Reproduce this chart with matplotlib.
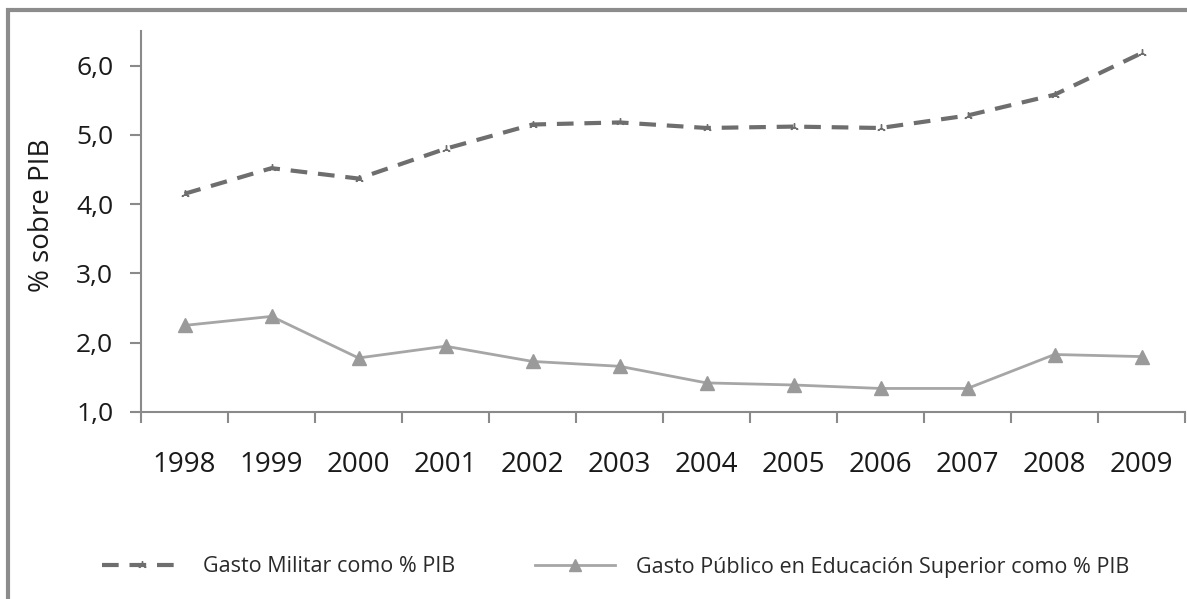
import matplotlib.pyplot as plt
from matplotlib.lines import Line2D
from matplotlib.patches import Rectangle

# Data
years = ["1998", "1999", "2000", "2001", "2002", "2003",
         "2004", "2005", "2006", "2007", "2008", "2009"]
gasto_militar = [4.15, 4.52, 4.37, 4.80, 5.15, 5.18, 5.10, 5.12, 5.10, 5.28, 5.58, 6.18]
gasto_educacion = [2.25, 2.38, 1.78, 1.95, 1.73, 1.66, 1.42, 1.39, 1.34, 1.34, 1.83, 1.80]
y_ticks = [1.0, 2.0, 3.0, 4.0, 5.0, 6.0]

plt.rcParams["font.family"] = ["Open Sans", "DejaVu Sans"]

W, H = 1187, 599
fig = plt.figure(figsize=(W / 100, H / 100), dpi=100)
ax = fig.add_axes([141 / W, 1 - 412 / H, (1185 - 141) / W, (412 - 31) / H])

x = list(range(len(years)))
ax.plot(x, gasto_militar, color="#6e6e6e", linestyle=(0, (4, 2.6)), linewidth=3,
        marker=(3, 2, 0), markersize=6, markeredgewidth=1, markeredgecolor="#6e6e6e",
        label="Gasto Militar como % PIB", zorder=3)
ax.plot(x, gasto_educacion, color="#a6a6a6", linewidth=2,
        marker="^", markersize=10, markerfacecolor="#9a9a9a", markeredgecolor="#9a9a9a",
        label="Gasto Público en Educación Superior como % PIB", zorder=3)

ax.set_xlim(-0.5, len(years) - 0.5)
ax.set_ylim(1.0, 6.5)

# category boundaries carry the ticks, labels sit in the middle
ax.set_xticks([i - 0.5 for i in range(len(years) + 1)])
ax.set_xticklabels([])
ax.set_xticks(x, minor=True)
ax.set_xticklabels(years, minor=True, fontsize=20, color="#1a1a1a")
ax.tick_params(axis="x", which="major", direction="out", length=8, width=1.5, color="#8a8a8a")
ax.tick_params(axis="x", which="minor", length=0, pad=28)

ax.set_yticks(y_ticks)
ax.set_yticklabels([f"{v:.1f}".replace(".", ",") for v in y_ticks], fontsize=19, color="#1a1a1a")
ax.tick_params(axis="y", direction="out", length=8, width=1.5, color="#8a8a8a", pad=12)

for side in ["top", "right"]:
    ax.spines[side].set_visible(False)
for side in ["left", "bottom"]:
    ax.spines[side].set_color("#8a8a8a")
    ax.spines[side].set_linewidth(1.5)

fig.text(42 / W, 1 - 215 / H, "% sobre PIB", rotation=90, fontsize=20,
         color="#1a1a1a", ha="center", va="center")

# Legend at the bottom
handles = [
    Line2D([], [], color="#6e6e6e", linestyle=(0, (4, 2.6)), linewidth=3,
           marker=(3, 2, 0), markersize=6, markeredgecolor="#6e6e6e"),
    Line2D([], [], color="#a6a6a6", linewidth=2, marker="^", markersize=8,
           markerfacecolor="#9a9a9a", markeredgecolor="#9a9a9a"),
]
fig.legend(handles, ["Gasto Militar como % PIB",
                     "Gasto Público en Educación Superior como % PIB"],
           loc="center left", bbox_to_anchor=(102 / W, 1 - 567 / H), ncol=2,
           frameon=False, fontsize=15.5, handlelength=3.7, handletextpad=1.0,
           columnspacing=3.7, borderpad=0, borderaxespad=0, labelcolor="#2a2a2a")

# Outer frame (partly cropped in the original)
fig.patches.append(Rectangle((8 / W, -0.1), 1.2, 1 - 10 / H + 0.1,
                             transform=fig.transFigure, fill=False,
                             edgecolor="#8c8c8c", linewidth=3))

fig.savefig("out.png", dpi=100)
